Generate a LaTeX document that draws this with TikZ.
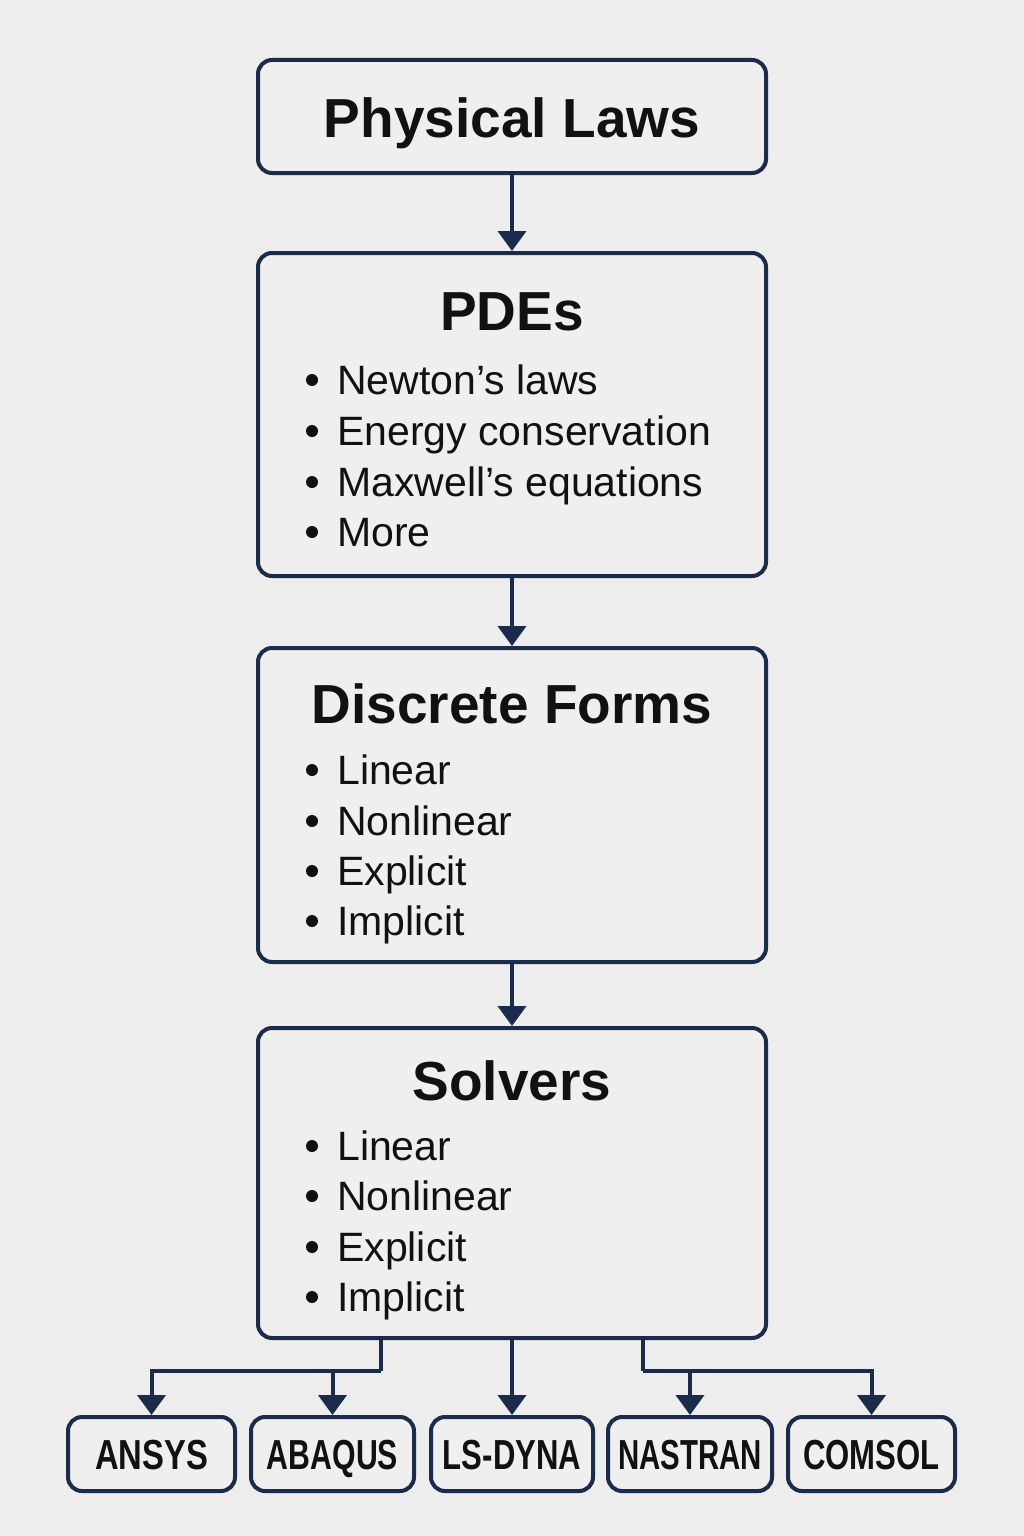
\documentclass[tikz,border=0pt]{standalone}
\usepackage{fontspec}
\usepackage{graphicx}
\setmainfont{Liberation Sans}
\usetikzlibrary{arrows.meta}
\definecolor{navy}{HTML}{1B2B4B}
\definecolor{bg}{HTML}{EDEDED}
\definecolor{boxfill}{HTML}{EFEFEF}
\definecolor{ink}{HTML}{111111}

\begin{document}
\begin{tikzpicture}[x=1pt,y=-1pt,
  box/.style={draw=navy, line width=4pt, rounded corners=14pt, fill=boxfill, inner sep=0pt},
  title/.style={font=\fontsize{55}{60}\selectfont\bfseries, text=ink, inner sep=0pt, anchor=base},
  item/.style={font=\fontsize{41}{48}\selectfont, text=ink, inner sep=0pt, anchor=base west},
  tool/.style={font=\fontsize{42}{46}\selectfont\bfseries, text=ink, inner sep=0pt, anchor=base},
  link/.style={draw=navy, line width=4pt, -{Triangle[width=28pt,length=20pt]}},
  dot/.style={fill=ink},
]
% canvas
\fill[bg] (0,0) rectangle (1024,1536);
\useasboundingbox (0,0) rectangle (1024,1536);

% main boxes
\node[box, minimum width=508pt, minimum height=113pt] (laws) at (512,116.5) {};
\node[box, minimum width=508pt, minimum height=323pt] (pdes) at (512,414.5) {};
\node[box, minimum width=508pt, minimum height=314pt] (disc) at (512,805) {};
\node[box, minimum width=508pt, minimum height=310pt] (solv) at (512,1183) {};

% titles
\node[title] (tlaws) at (512,138) {Physical Laws};
\node[title] (tpdes) at (512,330) {PDEs};
\node[title] (tdisc) at (512,723) {Discrete Forms};
\node[title] (tsolv) at (512,1100) {Solvers};

% PDE items
\foreach \y/\t [count=\i] in {380/Newton’s laws, 431/Energy conservation, 482/Maxwell’s equations, 532/More}{
  \fill[dot] (312,\y) circle (6);
  \node[item] (p\i) at (337,\y+14) {\t};
}
% discrete-form items
\foreach \y/\t [count=\i] in {770/Linear, 821/Nonlinear, 871/Explicit, 921/Implicit}{
  \fill[dot] (312,\y) circle (6);
  \node[item] (d\i) at (337,\y+14) {\t};
}
% solver items
\foreach \y/\t [count=\i] in {1146/Linear, 1196/Nonlinear, 1247/Explicit, 1297/Implicit}{
  \fill[dot] (312,\y) circle (6);
  \node[item] (s\i) at (337,\y+14) {\t};
}

% software boxes
\node[box, minimum width=167pt, minimum height=74pt] (ansys)   at (151.5,1454) {};
\node[box, minimum width=163pt, minimum height=74pt] (abaqus)  at (332.5,1454) {};
\node[box, minimum width=162pt, minimum height=74pt] (lsdyna)  at (512,1454) {};
\node[box, minimum width=164pt, minimum height=74pt] (nastran) at (690,1454) {};
\node[box, minimum width=167pt, minimum height=74pt] (comsol)  at (871.5,1454) {};

\node[tool] (lansys)   at (151.5,1469) {\scalebox{0.78}[1]{ANSYS}};
\node[tool] (labaqus)  at (332.5,1469) {\scalebox{0.72}[1]{ABAQUS}};
\node[tool] (llsdyna)  at (512,1469)   {\scalebox{0.74}[1]{LS-DYNA}};
\node[tool] (lnastran) at (690,1469)   {\scalebox{0.70}[1]{NASTRAN}};
\node[tool] (lcomsol)  at (871.5,1469) {\scalebox{0.74}[1]{COMSOL}};

% main chain
\draw[link] (laws.south) -- (pdes.north);
\draw[link] (pdes.south) -- (disc.north);
\draw[link] (disc.south) -- (solv.north);

% branches to software
\coordinate (bl) at (381,1371);
\coordinate (br) at (643,1371);
\draw[draw=navy, line width=4pt] (solv.south -| bl) -- (bl);
\draw[link] (bl) -| (ansys.north);
\draw[link] (bl) -| (abaqus.north);
\draw[link] (solv.south) -- (lsdyna.north);
\draw[draw=navy, line width=4pt] (solv.south -| br) -- (br);
\draw[link] (br) -| (nastran.north);
\draw[link] (br) -| (comsol.north);
\end{tikzpicture}
\end{document}
